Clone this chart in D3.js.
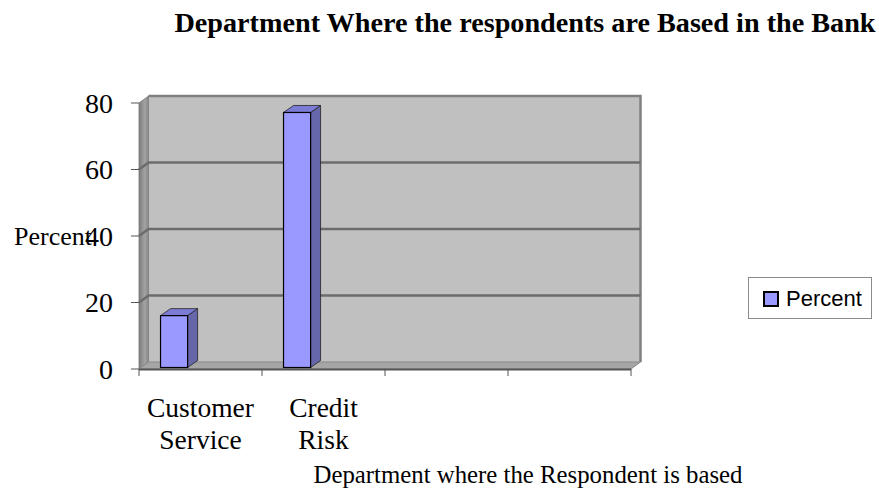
<!DOCTYPE html>
<html>
<head>
<meta charset="utf-8">
<script src="https://cdn.jsdelivr.net/npm/d3@7"></script>
<style>
    body{ margin: 0; background: #fff; }
    svg text{ font-family: "Liberation Serif", "Times New Roman", serif; fill: #000; }
</style>
</head>
<body>
<div id="chart"></div>
<script>
const categories = ["Customer Service", "Credit Risk", "", ""];
const percentValues = [15.6, 76.7, null, null];
const yTicks = [0, 20, 40, 60, 80];
const seriesName = "Percent";

const wSvg = 879;
const hSvg = 493;

// front plane of the 3d box, back wall is shifted by depth
const plot = { left: 139, right: 631, top: 103, bottom: 369 };
const depth = { dx: 9.5, dy: -7 };
const barDepth = { dx: 10, dy: -7 };

const colors = {
    wall: "#c0c0c0",
    wallEdge: "#808080",
    grid: "#6c6c6c",
    floor: "#a6a6a6",
    barFront: "#9999ff",
    barSide: "#6666aa",
    barTop: "#7c7cd6"
};

const svg = d3.select("#chart").append("svg")
    .attr("width", wSvg)
    .attr("height", hSvg);

const defs = svg.append("defs");
const sideGrad = defs.append("linearGradient").attr("id", "sideGrad");
sideGrad.append("stop").attr("offset", "0%").attr("stop-color", "#7c7c7c");
sideGrad.append("stop").attr("offset", "60%").attr("stop-color", "#a2a2a2");
sideGrad.append("stop").attr("offset", "100%").attr("stop-color", "#8a8a8a");

const xScale = d3.scaleBand()
    .domain(d3.range(categories.length))
    .range([plot.left, plot.right]);

const yScale = d3.scaleLinear()
    .domain([0, d3.max(yTicks)])
    .range([plot.bottom, plot.top]);

const pts = arr => arr.map(p => p.join(",")).join(" ");
const y0 = yScale(0), yMax = yScale(d3.max(yTicks));

// back wall
svg.append("polygon")
    .attr("points", pts([
        [plot.left + depth.dx, yMax + depth.dy],
        [plot.right + depth.dx, yMax + depth.dy],
        [plot.right + depth.dx, y0 + depth.dy],
        [plot.left + depth.dx, y0 + depth.dy]
    ]))
    .attr("fill", colors.wall);

svg.append("polyline")
    .attr("points", pts([
        [plot.left + depth.dx, yMax + depth.dy],
        [plot.right + depth.dx, yMax + depth.dy],
        [plot.right + depth.dx, y0 + depth.dy]
    ]))
    .attr("fill", "none")
    .attr("stroke", colors.wallEdge)
    .attr("stroke-width", 2.5);

// side wall
svg.append("polygon")
    .attr("points", pts([
        [plot.left, yMax],
        [plot.left + depth.dx, yMax + depth.dy],
        [plot.left + depth.dx, y0 + depth.dy],
        [plot.left, y0]
    ]))
    .attr("fill", "url(#sideGrad)")
    .attr("stroke", "#777")
    .attr("stroke-width", 0.8);

// floor
svg.append("polygon")
    .attr("points", pts([
        [plot.left, y0],
        [plot.left + depth.dx, y0 + depth.dy],
        [plot.right + depth.dx, y0 + depth.dy],
        [plot.right, y0]
    ]))
    .attr("fill", colors.floor)
    .attr("stroke", "#8a8a8a")
    .attr("stroke-width", 1);

// gridlines: back wall + the slanted part on the side wall
const gridVals = yTicks.filter(v => v > 0 && v < d3.max(yTicks));
svg.append("g").selectAll("polyline")
    .data(gridVals)
    .enter().append("polyline")
        .attr("points", d => pts([
            [plot.left, yScale(d)],
            [plot.left + depth.dx, yScale(d) + depth.dy],
            [plot.right + depth.dx, yScale(d) + depth.dy]
        ]))
        .attr("fill", "none")
        .attr("stroke", colors.grid)
        .attr("stroke-width", 2.5);

// axes lines and ticks
svg.append("line")
    .attr("x1", plot.left).attr("x2", plot.right)
    .attr("y1", y0 + 0.5).attr("y2", y0 + 0.5)
    .attr("stroke", "#555").attr("stroke-width", 2);

svg.append("g").selectAll("line")
    .data(yTicks)
    .enter().append("line")
        .attr("x1", plot.left - 8).attr("x2", plot.left)
        .attr("y1", d => yScale(d)).attr("y2", d => yScale(d))
        .attr("stroke", "#555").attr("stroke-width", 1);

const xTickPos = xScale.domain().map(i => xScale(i)).concat([plot.right]);
svg.append("g").selectAll("line")
    .data(xTickPos)
    .enter().append("line")
        .attr("x1", d => d).attr("x2", d => d)
        .attr("y1", y0).attr("y2", y0 + 7)
        .attr("stroke", "#555").attr("stroke-width", 1);

// bars
const barX = i => xScale(i) + xScale.bandwidth() * 0.175;
const barW = xScale.bandwidth() * 0.22;
const barBase = y0 - 1.5;
const barData = percentValues.map((v, i) => ({ i, v })).filter(d => d.v != null);

const bars = svg.append("g").selectAll("g")
    .data(barData)
    .enter().append("g");

bars.append("polygon")
    .attr("points", d => {
        const x = barX(d.i) + barW, yt = yScale(d.v) - 1.5;
        return pts([[x, yt], [x + barDepth.dx, yt + barDepth.dy], [x + barDepth.dx, barBase + barDepth.dy], [x, barBase]]);
    })
    .attr("fill", colors.barSide).attr("stroke", "#222").attr("stroke-width", 0.8);

bars.append("polygon")
    .attr("points", d => {
        const x = barX(d.i), yt = yScale(d.v) - 1.5;
        return pts([[x, yt], [x + barDepth.dx, yt + barDepth.dy], [x + barW + barDepth.dx, yt + barDepth.dy], [x + barW, yt]]);
    })
    .attr("fill", colors.barTop).attr("stroke", "#222").attr("stroke-width", 0.8);

bars.append("rect")
    .attr("x", d => barX(d.i))
    .attr("y", d => yScale(d.v) - 1.5)
    .attr("width", barW)
    .attr("height", d => barBase - yScale(d.v) + 1.5)
    .attr("fill", colors.barFront).attr("stroke", "#000").attr("stroke-width", 1.2);

// tick labels
svg.append("g").selectAll("text")
    .data(yTicks)
    .enter().append("text")
        .attr("x", 113)
        .attr("y", d => yScale(d))
        .attr("dy", "0.35em")
        .attr("text-anchor", "end")
        .style("font-size", "28px")
        .text(d => d);

// category labels, wrapped on two lines
const catLabels = svg.append("g").selectAll("text")
    .data(categories.map((c, i) => ({ c, i })).filter(d => d.c))
    .enter().append("text")
        .attr("text-anchor", "middle")
        .style("font-size", "27.5px");
catLabels.selectAll("tspan")
    .data(d => d.c.split(" ").map(w => ({ w, x: xScale(d.i) + xScale.bandwidth() / 2 })))
    .enter().append("tspan")
        .attr("x", d => d.x)
        .attr("y", (d, i) => 417 + i * 31.5)
        .text(d => d.w);

// axis titles
svg.append("text")
    .attr("x", 14).attr("y", yScale(40))
    .attr("dy", "0.35em")
    .style("font-size", "26px")
    .text("Percent");

svg.append("text")
    .attr("x", 528).attr("y", 483)
    .attr("text-anchor", "middle")
    .style("font-size", "24.8px")
    .text("Department where the Respondent is based");

svg.append("text")
    .attr("x", 525).attr("y", 32)
    .attr("text-anchor", "middle")
    .style("font-size", "28.2px")
    .style("font-weight", "bold")
    .text("Department Where the respondents are Based in the Bank");

// legend
const legend = svg.append("g");
legend.append("rect")
    .attr("x", 748.5).attr("y", 277.5)
    .attr("width", 123).attr("height", 41)
    .attr("fill", "#fff").attr("stroke", "#8c8c8c").attr("stroke-width", 1);
legend.append("rect")
    .attr("x", 764).attr("y", 292)
    .attr("width", 14).attr("height", 14)
    .attr("fill", colors.barFront).attr("stroke", "#000").attr("stroke-width", 2);
legend.append("text")
    .attr("x", 786).attr("y", 305.5)
    .style("font-family", "'Liberation Sans', Arial, sans-serif")
    .style("font-size", "22px")
    .text(seriesName);
</script>
</body>
</html>
